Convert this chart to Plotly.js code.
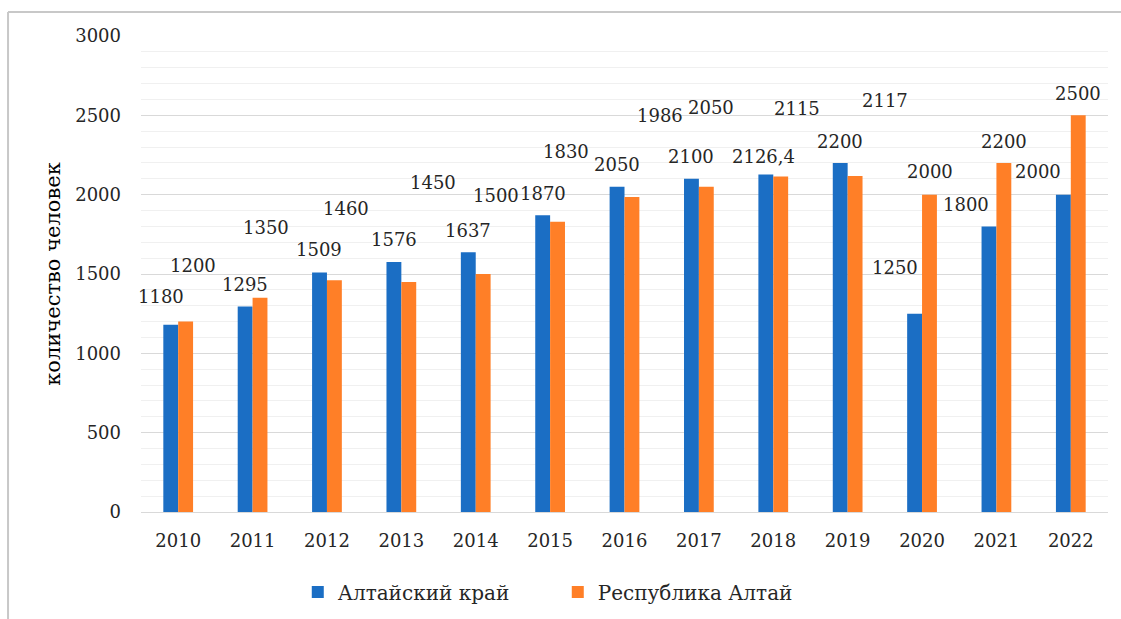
<!DOCTYPE html>
<html>
<head>
<meta charset="utf-8">
<script src="https://cdn.plot.ly/plotly-3.0.1.min.js"></script>
<style>html,body{margin:0;padding:0;background:#fff;}#chart{width:1121px;height:619px;}</style>
</head>
<body>
<div id="chart"></div>
<script>
// ---- data ----
const years = ['2010','2011','2012','2013','2014','2015','2016','2017','2018','2019','2020','2021','2022'];
const altaiKrai = [1180, 1295, 1509, 1576, 1637, 1870, 2050, 2100, 2126.4, 2200, 1250, 1800, 2000];
const altaiRep  = [1200, 1350, 1460, 1450, 1500, 1830, 1986, 2050, 2115, 2117, 2000, 2200, 2500];
const seriesNames = ['Алтайский край', 'Республика Алтай'];
const yTitle = 'количество человек';

// ---- label placement (pixel offsets, as placed in the original) ----
const krai_dx = [-10, 0, 0, 0, 0, 0, 0, 0, -2, 0, -20, -23, -25];
const krai_up = [28, 22, 23, 22, 22, 22, 22, 22, 18, 21, 46, 22, 23];
const rep_dx  = [7, 6, 12, 24, 13, 8, 28, 5, 16, 30, 0, 0, 0];
const rep_up  = [56, 70, 72, 99, 79, 70, 81, 79, 68, 76, 23, 21, 22];

const BLUE = '#1B6EC4';
const ORANGE = '#FF7F27';
const FONT = 'DejaVu Serif';
const TXT = '#262626';
const fmt = v => String(v).replace('.', ',');

const traces = [
  {type:'bar', name: seriesNames[0], x: years, y: altaiKrai, marker:{color: BLUE}, hoverinfo:'skip'},
  {type:'bar', name: seriesNames[1], x: years, y: altaiRep, marker:{color: ORANGE}, hoverinfo:'skip'}
];

const annotations = [];
const barHalf = 7.5;
years.forEach((yr, i) => {
  // on a category axis, annotation x is the category's serial index
  annotations.push({x: i, y: altaiKrai[i], xref:'x', yref:'y', text: fmt(altaiKrai[i]), showarrow:false,
    xanchor:'center', yanchor:'middle', xshift: -barHalf + krai_dx[i], yshift: krai_up[i],
    font:{family: FONT, size: 18, color: TXT}});
  annotations.push({x: i, y: altaiRep[i], xref:'x', yref:'y', text: fmt(altaiRep[i]), showarrow:false,
    xanchor:'center', yanchor:'middle', xshift: barHalf + rep_dx[i], yshift: rep_up[i],
    font:{family: FONT, size: 18, color: TXT}});
});

const layout = {
  width: 1121, height: 619,
  margin: {l:141, r:13, t:36, b:107, autoexpand:false},
  paper_bgcolor:'#ffffff', plot_bgcolor:'#ffffff',
  barmode:'group', bargap:0.6, bargroupgap:0,
  font:{family: FONT, size: 18, color: TXT},
  showlegend:true,
  legend:{orientation:'h', x:0.431, xanchor:'center', y:-0.168, yanchor:'middle',
    font:{family: FONT, size: 20, color: TXT}, itemwidth:30, entrywidth:215, traceorder:'normal'},
  xaxis:{type:'category', range:[-0.5, years.length - 0.5], autorange:false, automargin:false, showgrid:false, showline:false, zeroline:false, ticks:'',
    tickfont:{family: FONT, size: 18, color: TXT}, ticklabelstandoff: 16, fixedrange:true},
  yaxis:{range:[0,3000], autorange:false, automargin:false, dtick:500, showgrid:true, gridcolor:'#d9d9d9', gridwidth:1,
    minor:{dtick:100, showgrid:true, gridcolor:'#f0f0f0', gridwidth:1},
    zeroline:true, zerolinecolor:'#d9d9d9', zerolinewidth:1, showline:false, ticks:'',
    tickfont:{family: FONT, size: 18, color: TXT}, ticklabelstandoff: 19,
    title:{text: yTitle, font:{family: FONT, size: 21, color:'#000000'}, standoff: 8}, fixedrange:true},
  annotations: annotations,
  shapes: [
    {type:'line', xref:'paper', yref:'paper', x0:-0.1375, x1:1.02, y0:1.0504, y1:1.0504, line:{color:'#c8c8c8', width:2}},
    {type:'line', xref:'paper', yref:'paper', x0:-0.1375, x1:-0.1375, y0:1.0504, y1:-0.3, line:{color:'#c8c8c8', width:2}}
  ]
};

Plotly.newPlot('chart', traces, layout, {displayModeBar:false, staticPlot:true});
</script>
</body>
</html>
